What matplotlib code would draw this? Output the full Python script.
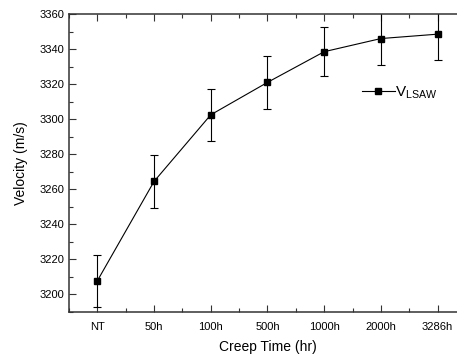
import matplotlib
matplotlib.use("Agg")
import matplotlib.pyplot as plt
from matplotlib.ticker import MultipleLocator, FixedLocator
from matplotlib.lines import Line2D

plt.rcParams['font.family'] = ['Liberation Sans', 'DejaVu Sans']

categories = ["NT", "50h", "100h", "500h", "1000h", "2000h", "3286h"]
velocity = [3207.8, 3264.5, 3302.5, 3321.0, 3338.5, 3346.0, 3348.5]
errors = [15.0, 15.0, 15.0, 15.0, 14.0, 15.0, 15.0]

fig = plt.figure(figsize=(4.57, 3.56), dpi=100)
ax_w = (457 - 69 + 9) / 457
ax = fig.add_axes([69/457, 1-312/356, ax_w, (312-14)/356])

x = list(range(len(categories)))
ax.errorbar(x, velocity, yerr=errors, color='black', lw=0.8, marker='s', ms=5,
            capsize=3, elinewidth=0.8, capthick=0.8)

ax.set_xlim(-0.5, 6.5)
ax.set_ylim(3190, 3360)
ax.set_xticks(x)
ax.set_xticklabels(categories)
ax.xaxis.set_minor_locator(FixedLocator([i + 0.5 for i in range(-1, 7)]))
ax.yaxis.set_major_locator(MultipleLocator(20))
ax.yaxis.set_minor_locator(MultipleLocator(10))
ax.tick_params(which='both', direction='in', top=True, right=False, labelsize=8,
               width=0.8, color='#333333')
ax.tick_params(which='major', length=5)
ax.tick_params(which='minor', length=3)
ax.tick_params(axis='x', which='major', pad=7)
for s in ax.spines.values():
    s.set_linewidth(1.1)
    s.set_color('#333333')
ax.spines['right'].set_visible(False)

ax.set_xlabel('Creep Time (hr)', fontsize=10)
ax.set_ylabel('Velocity (m/s)', fontsize=10)
ax.yaxis.set_label_coords(-0.103, 0.5)
ax.xaxis.set_label_coords(0.5, -0.095)

handle = Line2D([], [], color='black', lw=0.8, marker='s', ms=5)
ax.legend([handle], [r'V$_{\mathregular{LSAW}}$'], loc='center left',
          bbox_to_anchor=(0.71, 0.735), frameon=False, fontsize=11,
          handlelength=2.2, handletextpad=0.0, borderpad=0.2)

fig.savefig('out.png', dpi=100)
